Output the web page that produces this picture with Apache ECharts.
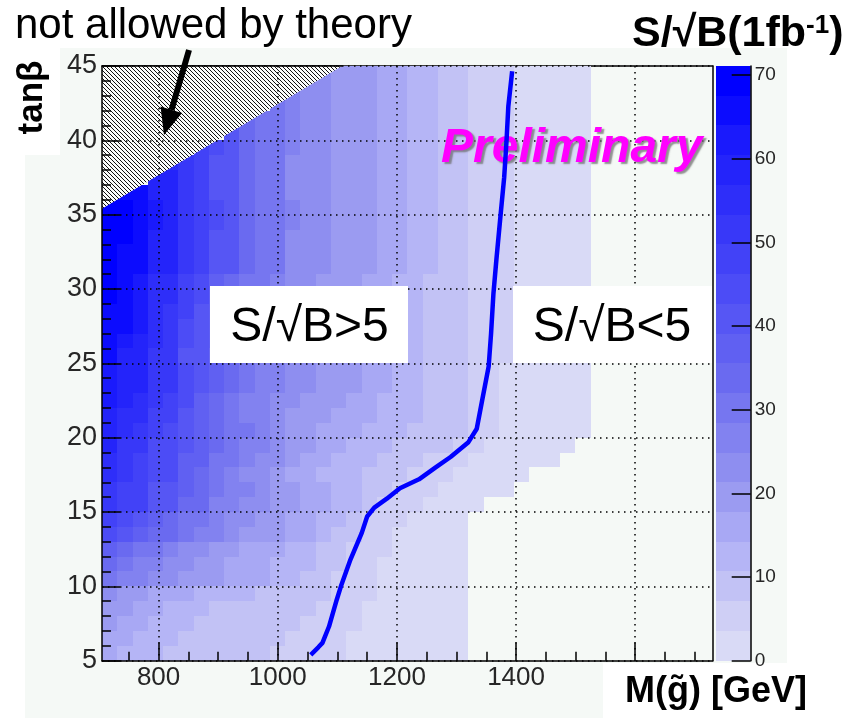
<!DOCTYPE html>
<html>
<head>
<meta charset="utf-8">
<script src="https://cdn.jsdelivr.net/npm/echarts@6/dist/echarts.min.js"></script>
<style>
  html, body { margin: 0; padding: 0; background: #ffffff; }
  #chart { width: 848px; height: 718px; }
</style>
</head>
<body>
<div id="chart"></div>
<script>
// ---- axes and binning ----
const massRange = [705, 1730];          // M(gluino) axis [GeV]
const tanBetaRange = [5, 45];
const massBinWidth = 25.625;            // 40 bins across the mass axis
const tanBetaBinWidth = 1;              // 40 bins across tan(beta)
const massTicks = [800, 1000, 1200, 1400, 1600];
const massMinorTicks = [750, 850, 900, 950, 1050, 1100, 1150, 1250, 1300, 1350, 1450, 1500, 1550, 1650, 1700];
const colorTicks = [0, 10, 20, 30, 40, 50, 60, 70];
const zMax = 71.1;                      // top of the colour scale
const nLevels = 20;                     // number of colour contours

// ---- S/sqrt(B) for 1 fb^-1, one array per tan(beta) row (lower edge in name) ----
const _ = null; // cell inside the theoretically excluded corner
const tb05 = [16,12,12,12,9,9,9,9,9,9,9,6,6,6,4,4,2,2,2,2,2,2,2,2];
const tb06 = [16,16,12,12,12,9,9,9,9,9,9,9,6,6,6,4,2,2,2,2,2,2,2,2];
const tb07 = [20,16,16,12,12,12,9,9,9,9,9,9,9,6,6,4,4,2,2,2,2,2,2,2];
const tb08 = [20,20,16,16,12,12,12,9,9,9,9,9,9,9,6,4,4,2,2,2,2,2,2,2];
const tb09 = [23,20,20,16,16,16,12,12,12,12,9,9,9,9,9,5,4,4,2,2,2,2,2,2];
const tb10 = [30,27,27,23,23,20,20,20,16,16,16,12,12,9,9,6,4,4,2,2,2,2,2,2];
const tb11 = [34,30,27,27,23,23,20,20,16,16,16,12,12,12,9,9,4,4,2,2,2,2,2,2];
const tb12 = [37,34,30,30,27,23,23,20,20,16,16,16,12,12,9,9,5,4,4,2,2,2,2,2];
const tb13 = [44,41,37,34,34,30,27,27,23,20,20,20,16,16,12,9,9,4,4,2,2,2,2,2];
const tb14 = [48,44,41,37,34,30,30,27,23,23,20,20,16,16,12,12,9,5,4,4,2,2,2,2];
const tb15 = [52,48,48,41,41,34,34,27,27,23,23,20,20,16,16,12,12,9,4,4,4,2,2,2,2];
const tb16 = [52,48,48,41,41,37,34,30,27,27,23,20,20,16,16,12,12,9,9,5,4,4,2,2,2,2,2];
const tb17 = [55,52,48,44,44,37,34,30,27,23,23,20,16,16,12,12,12,9,9,9,6,4,4,2,2,2,2,2];
const tb18 = [55,52,48,44,44,37,37,30,30,27,23,23,20,16,16,12,12,12,9,9,9,6,5,4,2,2,2,2,2,2];
const tb19 = [59,52,52,44,44,41,37,34,30,27,27,23,20,20,16,16,12,12,12,9,9,9,9,6,4,2,2,2,2,2,2];
const tb20 = [59,55,52,48,44,41,37,34,30,30,27,23,20,20,16,16,16,12,12,12,9,9,9,9,5,4,2,2,2,2,2,2];
const tb21 = [59,55,55,48,48,41,37,34,30,27,27,23,20,20,20,16,16,16,12,12,12,9,9,9,5,4,2,2,2,2,2,2];
const tb22 = [62,59,55,52,48,44,37,34,30,27,27,23,23,20,20,20,16,16,12,12,12,9,9,9,5,4,2,2,2,2,2,2];
const tb23 = [62,59,59,52,52,44,41,37,34,30,27,27,23,23,20,20,20,16,16,12,12,9,9,9,6,4,2,2,2,2,2,2];
const tb24 = [62,59,59,52,52,44,41,37,34,30,27,27,23,23,20,20,20,16,16,12,12,9,9,9,6,4,2,2,2,2,2,2];
const tb25 = [66,59,59,52,52,41,41,34,34,27,27,27,23,23,20,20,20,16,16,12,12,9,9,9,6,5,4,2,2,2,2,2];
const tb26 = [66,62,59,55,52,44,41,37,34,30,27,27,23,23,20,20,20,16,16,12,12,9,9,9,6,5,4,2,2,2,2,2];
const tb27 = [66,66,62,55,52,44,41,37,34,30,27,27,23,23,20,20,20,16,16,12,12,9,9,9,6,5,4,2,2,2,2,2];
const tb28 = [66,66,62,55,52,48,41,37,34,30,27,27,23,23,20,20,20,16,16,12,12,9,9,9,6,5,4,2,2,2,2,2];
const tb29 = [69,66,62,55,55,48,44,37,34,30,30,27,23,23,20,20,20,16,16,12,12,9,9,9,6,5,4,2,2,2,2,2];
const tb30 = [69,66,62,55,55,48,44,37,34,30,30,27,23,23,20,20,20,16,16,12,12,9,9,9,6,6,4,2,2,2,2,2];
const tb31 = [69,66,66,59,59,52,48,41,41,34,30,30,23,23,23,20,20,20,16,16,12,12,9,9,6,6,4,2,2,2,2,2];
const tb32 = [69,66,66,59,59,52,48,41,41,34,30,30,23,23,23,20,20,20,16,16,12,12,9,9,6,6,4,2,2,2,2,2];
const tb33 = [69,69,66,59,59,52,48,41,41,34,30,30,23,23,23,20,20,20,16,16,12,12,9,9,6,6,4,2,2,2,2,2];
const tb34 = [69,69,66,62,59,52,48,44,41,34,30,30,27,23,23,20,20,20,16,16,12,12,9,9,6,6,4,2,2,2,2,2];
const tb35 = [69,69,66,62,59,52,48,44,41,34,30,30,27,23,23,20,20,20,16,16,12,12,9,9,6,6,4,2,2,2,2,2];
const tb36 = [_,66,66,59,59,52,48,41,41,34,30,30,23,23,23,20,20,20,16,16,12,12,9,9,6,6,5,2,2,2,2,2];
const tb37 = [_,_,_,59,59,52,48,41,41,34,30,30,23,23,23,20,20,20,16,16,12,12,9,9,6,6,5,2,2,2,2,2];
const tb38 = [_,_,_,_,55,52,48,41,41,34,30,30,23,23,23,20,20,20,16,16,12,12,9,9,6,6,5,2,2,2,2,2];
const tb39 = [_,_,_,_,_,_,48,44,41,34,30,30,27,23,23,20,20,20,16,16,12,12,9,9,6,6,5,2,2,2,2,2];
const tb40 = [_,_,_,_,_,_,_,_,41,34,30,30,27,23,23,20,20,20,16,16,12,12,9,9,6,6,5,2,2,2,2,2];
const tb41 = [_,_,_,_,_,_,_,_,_,34,30,30,27,23,23,20,20,20,16,16,12,12,9,9,6,6,5,2,2,2,2,2];
const tb42 = [_,_,_,_,_,_,_,_,_,_,_,30,27,23,23,20,20,20,16,16,12,12,9,9,6,6,5,2,2,2,2,2];
const tb43 = [_,_,_,_,_,_,_,_,_,_,_,_,27,23,23,20,20,20,16,16,12,12,9,9,6,6,5,2,2,2,2,2];
const tb44 = [_,_,_,_,_,_,_,_,_,_,_,_,_,_,23,20,20,20,16,16,12,12,9,9,6,6,5,2,2,2,2,2];
const snrRows = [tb05, tb06, tb07, tb08, tb09, tb10, tb11, tb12, tb13, tb14,
                 tb15, tb16, tb17, tb18, tb19, tb20, tb21, tb22, tb23, tb24,
                 tb25, tb26, tb27, tb28, tb29, tb30, tb31, tb32, tb33, tb34,
                 tb35, tb36, tb37, tb38, tb39, tb40, tb41, tb42, tb43, tb44];

// ---- S/sqrt(B) = 5 contour ----
const contourMass = [1058, 1068, 1075, 1086, 1099, 1106, 1122, 1141, 1150, 1162, 1183, 1205, 1237, 1265,
                     1290, 1320, 1334, 1343, 1354, 1358, 1362, 1367, 1374, 1380, 1384, 1387, 1393];
const contourTanB = [5.5, 5.9, 6.2, 7.3, 9.1, 10.0, 11.8, 13.6, 14.7, 15.3, 15.9, 16.6, 17.2, 18.0,
                     18.7, 19.7, 20.6, 22.5, 24.8, 27.0, 29.7, 32.0, 35.0, 37.5, 40.0, 42.3, 44.5];

// ---- corner not allowed by theory ----
const theoryLimitMass = [705, 705, 1108];
const theoryLimitTanB = [35.4, 45, 45];

// ---- styling ----
const palette = ['#d9daf6', '#cfcff5', '#c2c2f5', '#b5b5f6', '#a8a8f4', '#9b9bf1', '#8e8ef0', '#8282f0',
                 '#7676f0', '#6a6af0', '#6060f2', '#5656f4', '#4c4cf6', '#4242f7', '#3838f8', '#2e2ef9',
                 '#2424fa', '#1a1afc', '#0c0cfe', '#0000ff'];
const fontFamily = '"Liberation Sans", Arial, Helvetica, sans-serif';
const canvasColor = '#f5f9f6';

function levelColor(v) {
  const k = Math.max(0, Math.min(nLevels - 1, Math.floor(v / zMax * nLevels)));
  return palette[k];
}

function hatchImage() {
  const c = document.createElement('canvas');
  c.width = 4; c.height = 4;
  const g = c.getContext('2d');
  g.fillStyle = '#fbfcfb';
  g.fillRect(0, 0, 4, 4);
  g.strokeStyle = '#111';
  g.lineWidth = 1.0;
  g.beginPath();
  g.moveTo(-1, -1); g.lineTo(5, 5);
  g.moveTo(-1, 3); g.lineTo(1, 5);
  g.moveTo(3, -1); g.lineTo(5, 1);
  g.stroke();
  return c;
}
const hatch = hatchImage();

// cells of the 2D histogram
const cellData = [];
snrRows.forEach((row, j) => {
  row.forEach((v, i) => {
    if (v !== null && v > 0) {
      cellData.push([massRange[0] + i * massBinWidth, tanBetaRange[0] + j * tanBetaBinWidth, v]);
    }
  });
});

// bands of the colour scale
const bandData = [];
for (let k = 0; k < nLevels; k++) {
  bandData.push([k, k * zMax / nLevels, (k + 1) * zMax / nLevels]);
}

const contourData = contourMass.map((m, k) => [m, contourTanB[k]]);

const chart = echarts.init(document.getElementById('chart'), null, { renderer: 'canvas', width: 848, height: 718 });

const axisBlack = { color: '#000', width: 1.5 };
const labelColor = '#262626';
const plainNumber = v => String(v);

chart.setOption({
  animation: false,
  backgroundColor: '#ffffff',
  textStyle: { fontFamily: fontFamily },
  grid: [
    { left: 102, top: 66, width: 610.7, height: 594.7 },
    { left: 716, top: 66, width: 34.7, height: 594.7 }
  ],
  xAxis: [
    { // main mass axis, major ticks + labels + grid
      gridIndex: 0, type: 'value', min: massRange[0], max: massRange[1], position: 'bottom', z: 5,
      axisLine: { show: true, onZero: false, lineStyle: axisBlack },
      axisTick: { show: true, inside: true, length: 18, customValues: massTicks, lineStyle: axisBlack },
      axisLabel: { show: true, customValues: massTicks, formatter: plainNumber, fontSize: 26, color: labelColor, margin: 4, fontFamily: fontFamily },
      splitLine: { show: true, lineStyle: { color: '#000', width: 1.5, type: [1.5, 4.5] } }
    },
    { // minor ticks along the mass axis
      gridIndex: 0, type: 'value', min: massRange[0], max: massRange[1], position: 'bottom', z: 5,
      axisLine: { show: false, onZero: false },
      axisTick: { show: true, inside: true, length: 9, customValues: massMinorTicks, lineStyle: axisBlack },
      axisLabel: { show: false },
      splitLine: { show: false }
    },
    { // upper frame edge, sits under the cells
      gridIndex: 0, type: 'value', min: massRange[0], max: massRange[1], position: 'top', z: 1,
      axisLine: { show: true, onZero: false, lineStyle: axisBlack },
      axisTick: { show: false }, axisLabel: { show: false }, splitLine: { show: false }
    },
    { // colour bar
      gridIndex: 1, type: 'value', min: 0, max: 1, show: false
    }
  ],
  yAxis: [
    {
      gridIndex: 0, type: 'value', min: tanBetaRange[0], max: tanBetaRange[1], interval: 5, position: 'left', z: 5,
      axisLine: { show: true, onZero: false, lineStyle: axisBlack },
      axisTick: { show: true, inside: true, length: 18, lineStyle: axisBlack },
      minorTick: { show: true, splitNumber: 5, length: 9, lineStyle: axisBlack },
      axisLabel: { show: true, formatter: plainNumber, fontSize: 27, color: labelColor, margin: 5, padding: [0, 0, 7, 0], fontFamily: fontFamily },
      splitLine: { show: true, showMinLine: true, showMaxLine: true, lineStyle: { color: '#000', width: 1.5, type: [1.5, 4.5] } }
    },
    { // right frame edge
      gridIndex: 0, type: 'value', min: tanBetaRange[0], max: tanBetaRange[1], position: 'right', z: 5,
      axisLine: { show: true, onZero: false, lineStyle: axisBlack },
      axisTick: { show: false }, axisLabel: { show: false }, splitLine: { show: false }
    },
    { // colour bar scale
      gridIndex: 1, type: 'value', min: 0, max: zMax, position: 'right', z: 12,
      axisLine: { show: true, onZero: false, lineStyle: axisBlack },
      axisTick: { show: true, inside: true, length: 19, customValues: colorTicks, lineStyle: axisBlack },
      axisLabel: { show: true, customValues: colorTicks, formatter: plainNumber, fontSize: 19, color: labelColor, margin: 4, padding: [0, 0, 6, 0], fontFamily: fontFamily },
      splitLine: { show: false }
    }
  ],
  series: [
    {
      name: 'S/sqrt(B)', type: 'custom', xAxisIndex: 0, yAxisIndex: 0, z: 2,
      data: cellData, encode: { x: 0, y: 1 }, silent: true,
      renderItem: function (params, api) {
        const m0 = api.value(0), t0 = api.value(1), v = api.value(2);
        const a = api.coord([m0, t0 + tanBetaBinWidth]);
        const b = api.coord([m0 + massBinWidth, t0]);
        const x0 = Math.round(a[0]), y0 = Math.round(a[1]);
        const x1 = Math.round(b[0]), y1 = Math.round(b[1]);
        return { type: 'rect', shape: { x: x0, y: y0, width: x1 - x0, height: y1 - y0 }, style: { fill: levelColor(v) } };
      }
    },
    {
      name: 'not allowed', type: 'custom', xAxisIndex: 0, yAxisIndex: 0, z: 3,
      data: [[theoryLimitMass[0], theoryLimitTanB[0]]], encode: { x: 0, y: 1 }, silent: true,
      renderItem: function (params, api) {
        const pts = theoryLimitMass.map((m, k) => api.coord([m, theoryLimitTanB[k]]));
        return {
          type: 'group',
          children: [
            { type: 'polygon', shape: { points: pts }, style: { fill: { image: hatch, repeat: 'repeat' } } },
            { type: 'polyline', shape: { points: [pts[1], pts[2]] }, style: { stroke: '#000', lineWidth: 1.5, fill: null } }
          ]
        };
      }
    },
    {
      name: 'S/sqrt(B)=5', type: 'line', xAxisIndex: 0, yAxisIndex: 0, z: 7,
      data: contourData, showSymbol: false, symbol: 'none', smooth: false,
      lineStyle: { color: '#0000ff', width: 4.5, cap: 'square' }, silent: true
    },
    {
      name: 'colour scale', type: 'custom', xAxisIndex: 3, yAxisIndex: 2, z: 2,
      data: bandData, encode: { x: 0, y: 1 }, silent: true,
      renderItem: function (params, api) {
        const k = api.value(0), lo = api.value(1), hi = api.value(2);
        const a = api.coord([0, hi]);
        const b = api.coord([1, lo]);
        const y0 = Math.round(a[1]), y1 = Math.round(b[1]);
        return { type: 'rect', shape: { x: a[0], y: y0, width: b[0] - a[0], height: y1 - y0 }, style: { fill: palette[k] } };
      }
    }
  ],
  graphic: [
    { type: 'rect', z: -10, silent: true, shape: { x: 25, y: 48, width: 762, height: 670 }, style: { fill: canvasColor } },
    { type: 'rect', z: -9, silent: true, shape: { x: 0, y: 0, width: 60, height: 155 }, style: { fill: '#ffffff' } },
    { type: 'rect', z: 10, silent: true, shape: { x: 603, y: 663, width: 245, height: 55 }, style: { fill: '#ffffff' } },
    { type: 'text', z: 10, x: 15, y: 26.5, style: { text: 'not allowed by theory', font: '42px ' + fontFamily, fill: '#000', align: 'left', verticalAlign: 'middle' } },
    { type: 'line', z: 10, shape: { x1: 189, y1: 50, x2: 171.5, y2: 110 }, style: { stroke: '#000', lineWidth: 6 } },
    { type: 'polygon', z: 10, shape: { points: [[164, 135], [182, 113], [160.5, 106.5]] }, style: { fill: '#000' } },
    { type: 'text', z: 10, x: 32, y: 97.5, rotation: Math.PI / 2, style: { text: 'tan\u03b2', font: 'bold 35px ' + fontFamily, fill: '#000', align: 'center', verticalAlign: 'middle' } },
    { type: 'text', z: 11, x: 632, y: 34, style: {
        text: '{a|S/\u221aB(1fb}{s|-1}{a|)}', align: 'left', verticalAlign: 'middle',
        rich: {
          a: { font: 'bold 43px ' + fontFamily, fill: '#000', verticalAlign: 'bottom' },
          s: { font: 'bold 26px ' + fontFamily, fill: '#000', verticalAlign: 'top' }
        } } },
    { type: 'text', z: 11, x: 625, y: 692, style: { text: 'M(g\u0303) [GeV]', font: 'bold 36px ' + fontFamily, fill: '#000', align: 'left', verticalAlign: 'middle' } },
    { type: 'rect', z: 8, shape: { x: 210, y: 286, width: 198, height: 77 }, style: { fill: '#ffffff' } },
    { type: 'text', z: 9, x: 309.5, y: 327.8, style: { text: 'S/\u221aB>5', font: '48px ' + fontFamily, fill: '#000', align: 'center', verticalAlign: 'middle' } },
    { type: 'rect', z: 8, shape: { x: 513, y: 286, width: 199, height: 77 }, style: { fill: '#ffffff' } },
    { type: 'text', z: 9, x: 612, y: 327.8, style: { text: 'S/\u221aB<5', font: '48px ' + fontFamily, fill: '#000', align: 'center', verticalAlign: 'middle' } },
    { type: 'text', z: 6, x: 441, y: 148.4, style: {
        text: 'Preliminary', font: 'italic bold 48px ' + fontFamily, fill: '#ff00ff', align: 'left', verticalAlign: 'middle',
        textShadowColor: 'rgba(110,110,110,0.75)', textShadowOffsetX: 2.5, textShadowOffsetY: 2.5, textShadowBlur: 1.5 } }
  ]
});
</script>
</body>
</html>
